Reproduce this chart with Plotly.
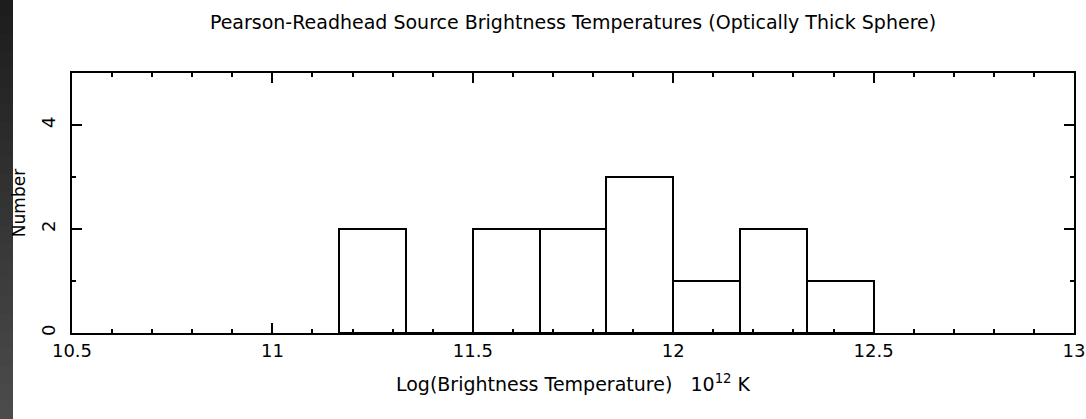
import plotly.graph_objects as go

# Histogram of log brightness temperatures (bin width 1/6 dex)
bin_width = 1.0 / 6.0
bin_left = [11.1667, 11.3333, 11.5, 11.6667, 11.8333, 12.0, 12.1667, 12.3333]
counts = [2, 0, 2, 2, 3, 1, 2, 1]

x_ticks = [10.5, 11, 11.5, 12, 12.5, 13]
x_tick_text = ["10.5", "11", "11.5", "12", "12.5", "13"]
y_ticks = [0, 2, 4]

title_text = "Pearson-Readhead Source Brightness Temperatures (Optically Thick Sphere)"
x_title = "Log(Brightness Temperature) \u00a0 10<sup>12</sup> K"
y_title = "Number"

W, H = 1086, 419
L, R, T, B = 72, 12, 73, 86

font_family = "DejaVu Sans"

centers = [b + bin_width / 2 for b in bin_left]

fig = go.Figure()
fig.add_trace(go.Bar(
    x=centers, y=counts, width=bin_width,
    marker=dict(color="white", line=dict(color="black", width=2)),
    showlegend=False, hoverinfo="skip",
))

axis_common = dict(
    showgrid=False, zeroline=False, showline=True, linecolor="black", linewidth=2,
    mirror="ticks", ticks="inside", tickcolor="black", tickwidth=2, automargin=False,
)

fig.update_layout(
    width=W, height=H,
    margin=dict(l=L, r=R, t=T, b=B),
    paper_bgcolor="white", plot_bgcolor="white",
    font=dict(family=font_family, color="black", size=17),
    title=dict(text=title_text, x=0.5, xref="paper", y=1 - 22 / H, yanchor="middle",
               font=dict(size=19, family=font_family)),
    bargap=0,
    xaxis=dict(
        range=[10.5, 13], tickmode="array", tickvals=x_ticks, ticktext=x_tick_text,
        ticklen=10, tickfont=dict(size=18),
        minor=dict(dtick=0.1, tick0=10.5, ticklen=4, ticks="inside", tickcolor="black", tickwidth=2),
        title=dict(text=x_title, standoff=18, font=dict(size=19)),
        **axis_common,
    ),
    yaxis=dict(
        range=[0, 5], tickmode="array", tickvals=y_ticks,
        ticklen=10, tickangle=-90, tickfont=dict(size=18), ticklabelstandoff=8,
        minor=dict(dtick=1, tick0=0, ticklen=4, ticks="inside", tickcolor="black", tickwidth=2),
        title=dict(text=y_title, standoff=8, font=dict(size=17)),
        **axis_common,
    ),
)

# Dark gradient strip down the left edge of the page
pw = W - L - R
ph = H - T - B
n_bands = 24
for i in range(n_bands):
    y0_px = H * i / n_bands - 1
    y1_px = H * (i + 1) / n_bands + 1
    g = int(0x1c + (0x4c - 0x1c) * (i + 0.5) / n_bands)
    fig.add_shape(
        type="rect", xref="paper", yref="paper",
        x0=(0 - L) / pw, x1=(13 - L) / pw,
        y0=(H - B - y1_px) / ph, y1=(H - B - y0_px) / ph,
        fillcolor=f"rgb({g},{g},{g})", line=dict(width=0), layer="above",
    )

fig.write_html("out.html")
